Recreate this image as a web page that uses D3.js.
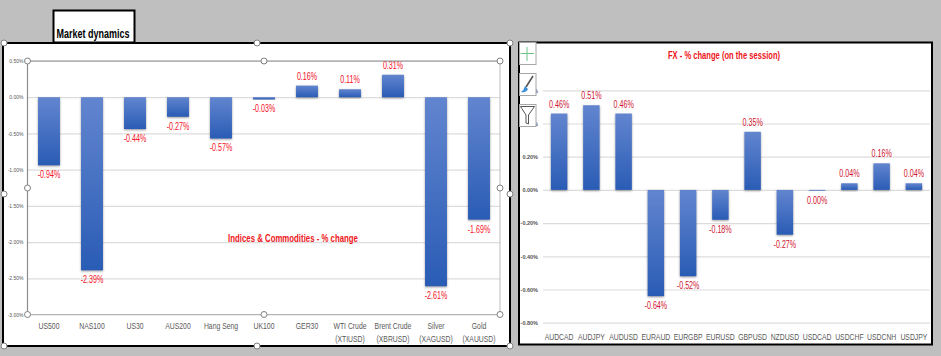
<!DOCTYPE html>
<html>
<head>
<meta charset="utf-8">
<script src="https://cdn.jsdelivr.net/npm/d3@7"></script>
<style>
    html, body { margin: 0; padding: 0; background: #bfbfbf; }
    svg { display: block; }
    text { font-family: "Liberation Sans", sans-serif; }
</style>
</head>
<body>
<div id="chart"></div>
<script>
// indices and commodities
var market_names = ['US500', 'NAS100', 'US30', 'AUS200', 'Hang Seng', 'UK100', 'GER30', 'WTI Crude|(XTIUSD)', 'Brent Crude|(XBRUSD)', 'Silver|(XAGUSD)', 'Gold|(XAUUSD)'];
var market_values = [-0.94, -2.39, -0.44, -0.27, -0.57, -0.03, 0.16, 0.11, 0.31, -2.61, -1.69];
var market_labels = ['-0.94%', '-2.39%', '-0.44%', '-0.27%', '-0.57%', '-0.03%', '0.16%', '0.11%', '0.31%', '-2.61%', '-1.69%'];
var market_ticks = [0.5, 0, -0.5, -1, -1.5, -2, -2.5, -3];

// fx pairs
var fx_names = ['AUDCAD', 'AUDJPY', 'AUDUSD', 'EURAUD', 'EURGBP', 'EURUSD', 'GBPUSD', 'NZDUSD', 'USDCAD', 'USDCHF', 'USDCNH', 'USDJPY'];
var fx_values = [0.46, 0.51, 0.46, -0.64, -0.52, -0.18, 0.35, -0.27, -0.004, 0.04, 0.16, 0.04];
var fx_labels = ['0.46%', '0.51%', '0.46%', '-0.64%', '-0.52%', '-0.18%', '0.35%', '-0.27%', '0.00%', '0.04%', '0.16%', '0.04%'];
var fx_ticks = [0.6, 0.4, 0.2, 0, -0.2, -0.4, -0.6, -0.8];

var svg = d3.select('#chart')
    .append('svg')
    .attr('width', 941)
    .attr('height', 356);

var defs = svg.append('defs');
var grad = defs.append('linearGradient')
    .attr('id', 'bar_fill')
    .attr('x1', 0).attr('y1', 0)
    .attr('x2', 0).attr('y2', 1);
grad.append('stop').attr('offset', '0%').attr('stop-color', '#6285cf');
grad.append('stop').attr('offset', '100%').attr('stop-color', '#2a5cb5');

var shadow = defs.append('filter').attr('id', 'bar_shadow')
    .attr('x', '-20%').attr('y', '-20%').attr('width', '140%').attr('height', '140%');
shadow.append('feDropShadow')
    .attr('dx', 0).attr('dy', 1)
    .attr('stdDeviation', 0.8)
    .attr('flood-color', '#555')
    .attr('flood-opacity', 0.6);

svg.append('rect').attr('width', 941).attr('height', 356).attr('fill', '#bfbfbf');

// squeezed text, no narrow font is installed
function add_text(x, y, size, k, color, bold, str) {
    return svg.append('text')
        .attr('transform', 'translate(' + x + ',' + y + ') scale(' + k + ',1)')
        .attr('text-anchor', 'middle')
        .attr('font-size', size)
        .attr('font-weight', bold ? 'bold' : 'normal')
        .attr('fill', color)
        .text(str);
}

// title box
svg.append('rect')
    .attr('x', 53.5).attr('y', 10.5)
    .attr('width', 81).attr('height', 32)
    .attr('fill', '#fff')
    .attr('stroke', '#000')
    .attr('stroke-width', 2);
add_text(93, 38, '12px', 0.75, '#000', true, 'Market dynamics');

// panel backgrounds
svg.append('rect')
    .attr('x', 3).attr('y', 43)
    .attr('width', 507).attr('height', 303)
    .attr('fill', '#fff')
    .attr('stroke', '#000')
    .attr('stroke-width', 2);
svg.append('rect')
    .attr('x', 519).attr('y', 42.5)
    .attr('width', 413).attr('height', 302)
    .attr('fill', '#fff')
    .attr('stroke', '#000')
    .attr('stroke-width', 2);

function draw_panel(opts) {
    var x = d3.scaleBand().domain(opts.names).range([opts.left, opts.right])
        .paddingInner(0.49).paddingOuter(0.245);
    var y = d3.scaleLinear().domain(opts.domain).range([opts.bottom, opts.top]);
    var g = svg.append('g');

    // gridlines and tick labels
    var y_axis = g.append('g')
        .attr('transform', 'translate(' + opts.left + ',0)')
        .call(d3.axisLeft(y)
            .tickValues(opts.ticks)
            .tickSize(-(opts.right - opts.left))
            .tickPadding(opts.tick_pad)
            .tickFormat(function(d) { return d.toFixed(2) + '%'; }));
    y_axis.select('.domain').remove();
    y_axis.selectAll('line').attr('stroke', '#dcdcdc').attr('stroke-width', 1.2);
    y_axis.selectAll('text')
        .attr('font-size', opts.tick_size)
        .attr('font-weight', opts.tick_weight)
        .attr('fill', '#555');

    // category labels
    var x_axis = g.append('g')
        .attr('transform', 'translate(0,' + opts.bottom + ')')
        .call(d3.axisBottom(x).tickSize(0).tickPadding(opts.cat_pad).tickFormat(function() { return ''; }));
    x_axis.select('.domain').remove();
    x_axis.selectAll('text').each(function(d) {
        var lines = d.split('|');
        var t = d3.select(this)
            .attr('font-size', opts.cat_size)
            .attr('fill', '#595959')
            .attr('transform', 'scale(' + opts.cat_k + ',1)');
        lines.forEach(function(line, i) {
            t.append('tspan')
                .attr('x', 0)
                .attr('dy', i === 0 ? 0 : 13)
                .text(line);
        });
    });

    // bars
    g.selectAll('.bar')
        .data(opts.values)
        .enter()
        .append('rect')
        .attr('class', 'bar')
        .attr('x', function(d, i) { return x(opts.names[i]); })
        .attr('y', function(d) { return y(Math.max(d, 0)); })
        .attr('width', x.bandwidth())
        .attr('height', function(d) { return Math.abs(y(d) - y(0)); })
        .attr('fill', 'url(#bar_fill)')
        .attr('filter', 'url(#bar_shadow)');

    // value labels
    g.selectAll('.val')
        .data(opts.values)
        .enter()
        .append('text')
        .attr('class', 'val')
        .attr('text-anchor', 'middle')
        .attr('font-size', '10.5px')
        .attr('fill', opts.label_color)
        .attr('transform', function(d, i) {
            var px = x(opts.names[i]) + x.bandwidth() / 2;
            var py = d < 0 ? y(d) + 13 : y(d) - 6;
            return 'translate(' + px + ',' + py + ') scale(0.68,1)';
        })
        .text(function(d, i) { return opts.labels[i]; });
}

draw_panel({
    names: market_names, values: market_values, labels: market_labels, ticks: market_ticks,
    domain: [-3, 0.5], left: 27.5, right: 500.5, top: 61, bottom: 314.5,
    tick_size: '5px', tick_weight: 'normal', tick_pad: 4,
    cat_size: '9.5px', cat_k: 0.72, cat_pad: 14.5, label_color: '#f5101f'
});

draw_panel({
    names: fx_names, values: fx_values, labels: fx_labels, ticks: fx_ticks,
    domain: [-0.8, 0.6], left: 543, right: 930, top: 90.3, bottom: 322.7,
    tick_size: '5.5px', tick_weight: 'bold', tick_pad: 5,
    cat_size: '9.5px', cat_k: 0.72, cat_pad: 17.5, label_color: '#cf1530'
});

// floating chart titles
add_text(293, 242, '11.5px', 0.68, '#ee1520', true, 'Indices & Commodities  - % change');
add_text(724, 59, '11.5px', 0.66, '#ee1520', true, 'FX - % change (on the session)');

// selected plot area outline
var plot_lines = [
    [27.5, 61, 500, 61, '#8c8c8c'],
    [27.5, 61, 27.5, 314.5, '#8c8c8c'],
    [500, 61, 500, 314.5, '#c8c8c8'],
    [27.5, 314.5, 500, 314.5, '#b4b4b4']
];
svg.selectAll('.plot_line')
    .data(plot_lines)
    .enter()
    .append('line')
    .attr('class', 'plot_line')
    .attr('x1', function(d) { return d[0]; })
    .attr('y1', function(d) { return d[1]; })
    .attr('x2', function(d) { return d[2]; })
    .attr('y2', function(d) { return d[3]; })
    .attr('stroke', function(d) { return d[4]; })
    .attr('stroke-width', 1.2);

// resize handles
var handles = [
    [4, 43], [257, 43], [510, 43], [4, 194], [510, 194], [4, 346], [257, 346], [510, 346],
    [27.5, 61], [264, 61], [500, 61], [27.5, 188], [500, 188], [27.5, 314.5], [264, 314.5], [500, 314.5]
];
svg.selectAll('.handle')
    .data(handles)
    .enter()
    .append('circle')
    .attr('class', 'handle')
    .attr('cx', function(d) { return d[0]; })
    .attr('cy', function(d) { return d[1]; })
    .attr('r', 3)
    .attr('fill', '#fff')
    .attr('stroke', '#808080')
    .attr('stroke-width', 1);

// side buttons, drawn over the hidden fx tick labels
var button_tops = [42.5, 73.5, 104.5];
svg.selectAll('.btn')
    .data(button_tops)
    .enter()
    .append('rect')
    .attr('class', 'btn')
    .attr('x', 519.5).attr('y', function(d) { return d; })
    .attr('width', 16.5).attr('height', 22)
    .attr('fill', '#fff')
    .attr('stroke', '#a6a6a6');

// plus
svg.append('path').attr('d', 'M527 47V61M520.5 53.5H534').attr('stroke', '#70c48a').attr('stroke-width', 1).attr('fill', 'none');
// brush
svg.append('path').attr('d', 'M533 76L526 87').attr('stroke', '#555').attr('stroke-width', 1.6).attr('fill', 'none');
svg.append('path').attr('d', 'M525 86L528 89Q526 93 521 92Q524 90 525 86Z').attr('fill', '#3f8fd6');
// funnel
svg.append('path').attr('d', 'M520.5 106.5H534.5L528.5 115V124L526 123V115Z').attr('fill', '#fff').attr('stroke', '#444').attr('stroke-width', 0.9);
</script>
</body>
</html>
